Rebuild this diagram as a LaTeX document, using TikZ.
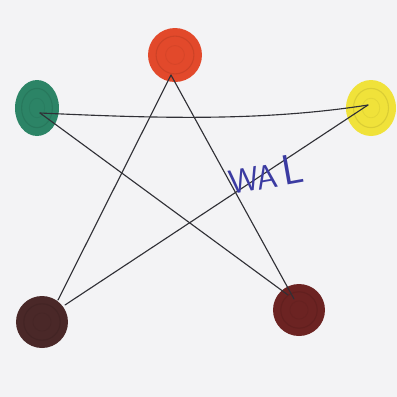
\documentclass[tikz,border=0pt]{standalone}
\usepackage{tikz}

\definecolor{paper}{HTML}{F3F3F5}
\definecolor{redink}{HTML}{E2492B}
\definecolor{greenink}{HTML}{2C8466}
\definecolor{yellowink}{HTML}{F0E23A}
\definecolor{brownink}{HTML}{4A2828}
\definecolor{maroonink}{HTML}{6C2322}
\definecolor{penink}{HTML}{303036}
\definecolor{blueink}{HTML}{3B3BA2}

\tikzset{
  pen/.style={draw=penink, line width=0.8pt, line cap=round}
}

\begin{document}
\begin{tikzpicture}[x=0.025cm, y=-0.025cm]

  % ───────── Paper ─────────
  \fill[paper] (0,0) rectangle (397,397);
  \useasboundingbox (0,0) rectangle (397,397);

  % ───────── Coloured dots (centre, x radius, y radius) ─────────
  \foreach \name/\col/\cx/\cy/\rx/\ry in {
      red/redink/175/55/27/27,
      green/greenink/37/108/22/28,
      yellow/yellowink/371/108/25/28,
      brown/brownink/42/322/26/26,
      maroon/maroonink/299/310/26/26} {
    \fill[\col] (\cx,\cy) ellipse[x radius=\rx, y radius=\ry];
    % felt-tip rings
    \draw[\col!80!black, line width=0.8pt, opacity=0.45]
      (\cx,\cy) ellipse[x radius=0.7*\rx, y radius=0.7*\ry];
    \draw[\col!85!black, line width=0.6pt, opacity=0.35]
      (\cx,\cy) ellipse[x radius=0.35*\rx, y radius=0.35*\ry];
    \coordinate (\name) at (\cx,\cy);
  }

  % ───────── Pen points where the strokes meet ─────────
  \coordinate (redpin)    at (171,75);
  \coordinate (greenpin)  at (40,113);
  \coordinate (yellowpin) at (368,105);
  \coordinate (brownpinA) at (58,300);
  \coordinate (brownpinB) at (65,305);
  \coordinate (maroonpinA) at (288,295);
  \coordinate (maroonpinB) at (294,299);

  % ───────── Star strokes ─────────
  \draw[pen] (greenpin) .. controls (150,118) and (260,122) .. (yellowpin);
  \draw[pen] (greenpin) -- (maroonpinA);
  \draw[pen] (redpin) -- (brownpinA);
  \draw[pen] (redpin) -- (maroonpinB);
  \draw[pen] (brownpinB) -- (yellowpin);

  % ───────── Handwritten label ─────────
  \node[text=blueink, font=\fontsize{24}{24}\sffamily, rotate=10,
        inner sep=0pt] (wal) at (266,174)
    {WA\,{\fontsize{30}{30}\selectfont L}};

\end{tikzpicture}
\end{document}
